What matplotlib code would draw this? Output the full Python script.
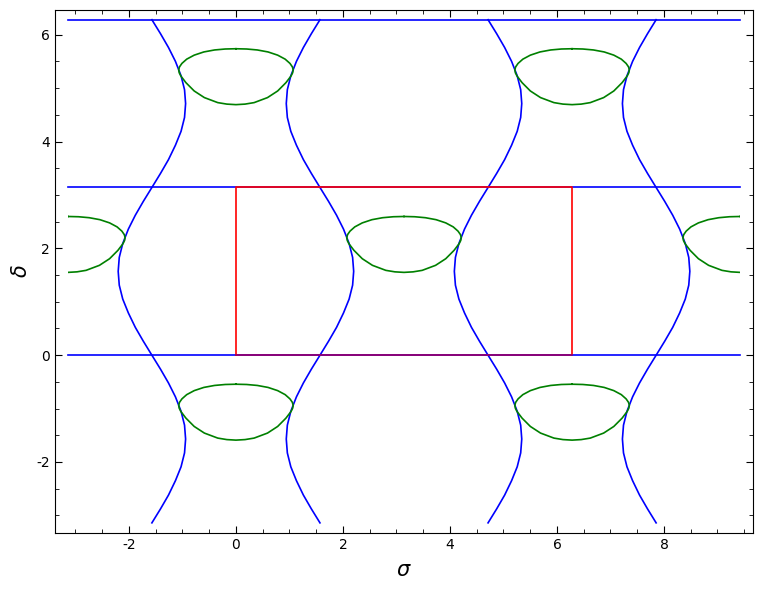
import numpy as np
import matplotlib
matplotlib.use('Agg')
import matplotlib.pyplot as plt
from matplotlib.ticker import MultipleLocator
from matplotlib.patches import Rectangle

pi = np.pi

# horizontal blue lines (delta values), drawn over sigma in [-pi, 3pi]
h_lines = [0, pi, 2 * pi]
sigma_range = [-pi, 3 * pi]
delta_range = [-pi, 2 * pi]

bulge_delta = [0, 0.26, 0.52, 0.79, 1.05, 1.31, 1.57, 1.83, 2.09, 2.36, 2.62, 2.88, 3.14]
bulge_width = [0, 0.16, 0.31, 0.44, 0.545, 0.61, 0.63, 0.61, 0.545, 0.44, 0.31, 0.16, 0]
left_curves = [-pi / 2, 3 * pi / 2]     # bulge to the left for 0 < delta < pi
right_curves = [pi / 2, 5 * pi / 2]     # mirrored

# green ovals: left half outline relative to center (top -> bottom)
oval_dx = [0, -0.20, -0.40, -0.60, -0.78, -0.92, -1.01, -1.055, -1.07, -1.06, -1.03, -0.935, -0.78, -0.59, -0.34, -0.17, 0]
oval_dy = [-0.545, -0.550, -0.568, -0.605, -0.665, -0.74, -0.82, -0.885, -0.94, -0.995, -1.055, -1.18, -1.336, -1.46, -1.554, -1.582, -1.592]
oval_centers = [(0, 0), (2 * pi, 0), (-pi, pi), (pi, pi), (3 * pi, pi), (0, 2 * pi), (2 * pi, 2 * pi)]

# red rectangle
rect_corner = (0, 0)
rect_w, rect_h = 2 * pi, pi

plt.rcParams['axes.unicode_minus'] = False
fig = plt.figure(figsize=(7.62, 5.9), dpi=100)
ax = fig.add_axes([0.0722, 0.0966, 0.916, 0.8864])

lw = 1.2

# build one full blue curve over [-pi, 2pi]
bd = np.array(bulge_delta)
bw = np.array(bulge_width)
curve_d = np.concatenate([bd - pi, bd[1:], bd[1:] + pi])
curve_w = np.concatenate([-bw, bw[1:], -bw[1:]])

for d in h_lines:
    ax.plot(sigma_range, [d, d], color='#0000ff', lw=lw, zorder=2)

for s0 in left_curves:
    ax.plot(s0 - curve_w, curve_d, color='#0000ff', lw=lw, zorder=2)
for s0 in right_curves:
    ax.plot(s0 + curve_w, curve_d, color='#0000ff', lw=lw, zorder=2)

# ovals, clipped to the sigma range of the implicit plot
clip = Rectangle((sigma_range[0], delta_range[0]), sigma_range[1] - sigma_range[0],
                 delta_range[1] - delta_range[0], transform=ax.transData)
ox = np.array(oval_dx)
oy = np.array(oval_dy)
full_x = np.concatenate([ox, -ox[::-1][1:]])
full_y = np.concatenate([oy, oy[::-1][1:]])
for cx, cy in oval_centers:
    ln, = ax.plot(cx + full_x, cy + full_y, color='#008000', lw=lw, zorder=2)
    ln.set_clip_path(clip)

# red rectangle
x0, y0 = rect_corner
ax.plot([x0, x0 + rect_w, x0 + rect_w, x0, x0], [y0, y0, y0 + rect_h, y0 + rect_h, y0],
        color='#ff0000', lw=lw, zorder=3)
# bottom edge overlaps the blue line
ax.plot([x0, x0 + rect_w], [y0, y0], color='#0000ff', lw=lw, alpha=0.45, zorder=4)

ax.set_xlim(-pi - 0.24, 3 * pi + 0.24)
ax.set_ylim(-pi - 0.19, 2 * pi + 0.18)

ax.xaxis.set_major_locator(MultipleLocator(2))
ax.xaxis.set_minor_locator(MultipleLocator(0.5))
ax.yaxis.set_major_locator(MultipleLocator(2))
ax.yaxis.set_minor_locator(MultipleLocator(0.5))
ax.tick_params(which='both', direction='in', top=True, right=True, labelsize=10)
ax.tick_params(which='major', length=5)
ax.tick_params(which='minor', length=3)

ax.set_xlabel(r'$\sigma$', fontsize=15, labelpad=6)
ax.set_ylabel(r'$\delta$', fontsize=15)

plt.savefig('out.png', dpi=100)
plt.close()
